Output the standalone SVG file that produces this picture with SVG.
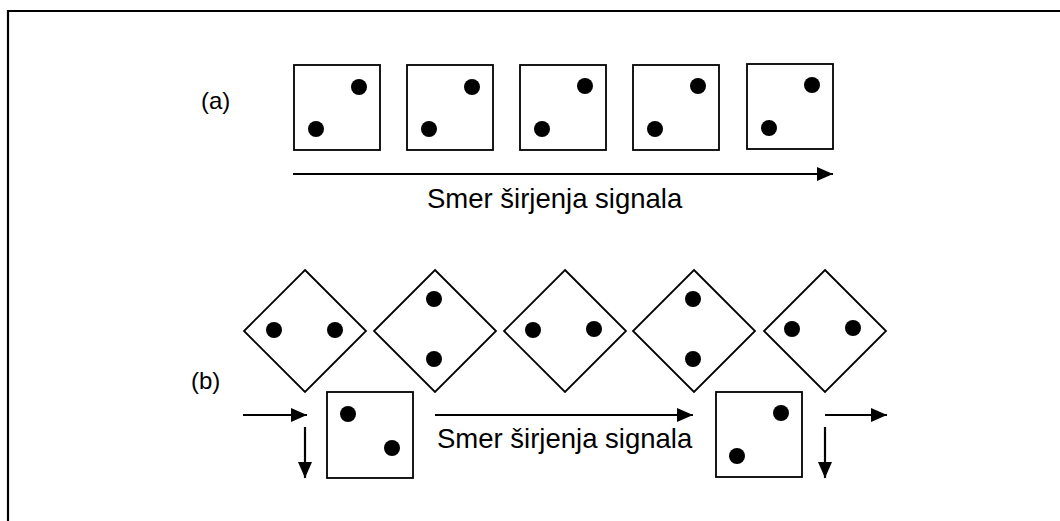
<svg xmlns="http://www.w3.org/2000/svg" width="1060" height="521" viewBox="0 0 1060 521">
  <style>
    .box { fill: #fff; stroke: #000; stroke-width: 1.8; }
    .pip { fill: #000; }
    .conn { stroke: #000; stroke-width: 2.2; fill: none; }
    .lbl { font-family: "Liberation Sans", Arial, sans-serif; fill: #000; }
  </style>
  <defs>
    <marker id="head" markerUnits="userSpaceOnUse" markerWidth="18" markerHeight="16" refX="16" refY="7" orient="auto">
      <path d="M0,0 L16,7 L0,14 Z" fill="#000"/>
    </marker>
    <g id="pip"><circle r="8" class="pip"/></g>
  </defs>

  <rect width="1060" height="521" fill="#fff"/>
  <!-- frame -->
  <path d="M8,521 V11 H1060" fill="none" stroke="#000" stroke-width="2.2"/>

  <!-- row (a): upright dice -->
  <text class="lbl" x="201" y="109" font-size="24">(a)</text>
  <g id="a1"><rect class="box" x="294" y="65" width="86" height="85"/><use href="#pip" x="359" y="87"/><use href="#pip" x="316" y="129"/></g>
  <g id="a2"><rect class="box" x="407" y="65" width="86" height="85"/><use href="#pip" x="472" y="87"/><use href="#pip" x="429" y="129"/></g>
  <g id="a3"><rect class="box" x="520" y="65" width="86" height="85"/><use href="#pip" x="585" y="86"/><use href="#pip" x="542" y="129"/></g>
  <g id="a4"><rect class="box" x="633" y="65" width="86" height="85"/><use href="#pip" x="698" y="86"/><use href="#pip" x="655" y="129"/></g>
  <g id="a5"><rect class="box" x="747" y="64" width="86" height="85"/><use href="#pip" x="812" y="85"/><use href="#pip" x="769" y="128"/></g>
  <text class="lbl" x="427" y="208" font-size="27.5">Smer širjenja signala</text>

  <!-- row (b): tilted dice -->
  <text class="lbl" x="191" y="389" font-size="24">(b)</text>
  <g id="b1"><path class="box" d="M305,270 L366,331 L305,392 L244,331 Z"/><use href="#pip" x="274" y="330"/><use href="#pip" x="335" y="330"/></g>
  <g id="b2"><path class="box" d="M435,270 L496,331 L435,392 L374,331 Z"/><use href="#pip" x="434" y="299"/><use href="#pip" x="434" y="359"/></g>
  <g id="b3"><path class="box" d="M565,270 L626,331 L565,392 L504,331 Z"/><use href="#pip" x="533" y="330"/><use href="#pip" x="594" y="329"/></g>
  <g id="b4"><path class="box" d="M694,270 L755,331 L694,392 L633,331 Z"/><use href="#pip" x="693" y="299"/><use href="#pip" x="693" y="359"/></g>
  <g id="b5"><path class="box" d="M825,270 L886,331 L825,392 L764,331 Z"/><use href="#pip" x="792" y="329"/><use href="#pip" x="853" y="328"/></g>
  <g id="s1"><rect class="box" x="327" y="392" width="86" height="86"/><use href="#pip" x="348" y="414"/><use href="#pip" x="392" y="448"/></g>
  <g id="s2"><rect class="box" x="716" y="392" width="86" height="85"/><use href="#pip" x="781" y="413"/><use href="#pip" x="737" y="456"/></g>
  <text class="lbl" x="437" y="448" font-size="27.5">Smer širjenja signala</text>

  <!-- connectors -->
  <g id="connectors">
    <line class="conn" x1="293" y1="174" x2="833" y2="174" marker-end="url(#head)"/>
    <line class="conn" x1="435" y1="415" x2="693" y2="415" marker-end="url(#head)"/>
    <line class="conn" x1="243" y1="415" x2="307" y2="415" marker-end="url(#head)"/>
    <line class="conn" x1="305" y1="427" x2="305" y2="478" marker-end="url(#head)"/>
    <line class="conn" x1="825" y1="415" x2="887" y2="415" marker-end="url(#head)"/>
    <line class="conn" x1="825" y1="427" x2="825" y2="478" marker-end="url(#head)"/>
  </g>
</svg>
